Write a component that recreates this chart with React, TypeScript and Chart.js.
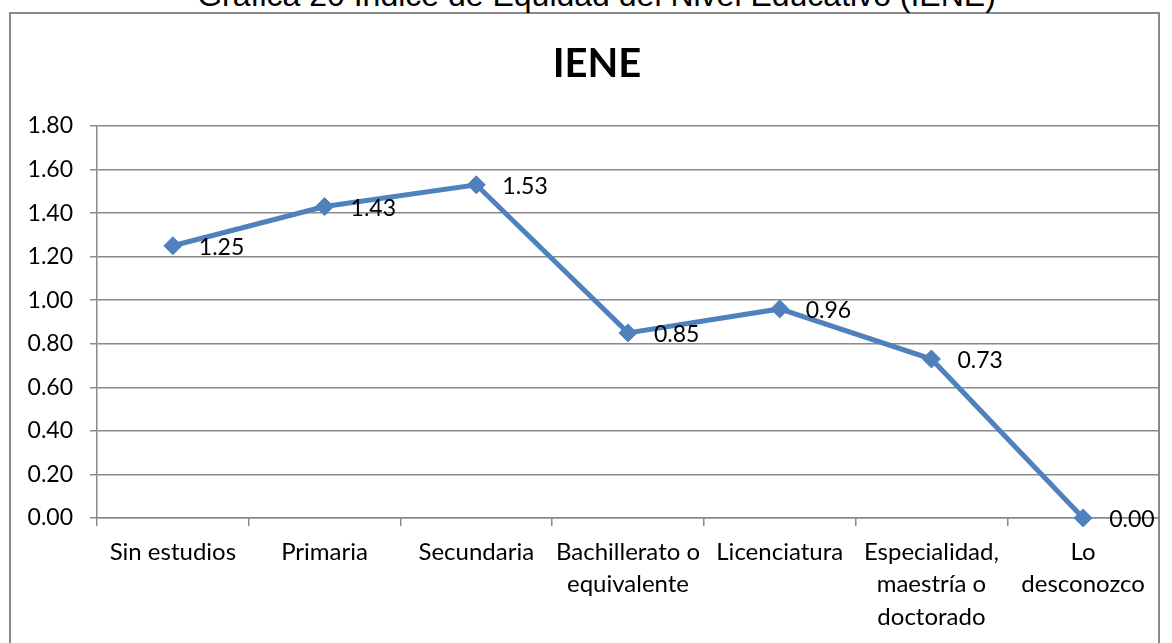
import React, { useEffect, useRef } from "react";
import { Chart, registerables } from "chart.js";

Chart.register(...registerables);

const categories: (string | string[])[] = [
  "Sin estudios",
  "Primaria",
  "Secundaria",
  ["Bachillerato o", "equivalente"],
  "Licenciatura",
  ["Especialidad,", "maestría o", "doctorado"],
  ["Lo", "desconozco"],
];
const ieneValues: number[] = [1.25, 1.43, 1.53, 0.85, 0.96, 0.73, 0.0];
const yTicks: number[] = [0, 0.2, 0.4, 0.6, 0.8, 1.0, 1.2, 1.4, 1.6, 1.8];

const caption = "Gráfica 20 Índice de Equidad del Nivel Educativo (IENE)";
const chartTitle = "IENE";
const FONT = "Lato, 'Noto Sans', sans-serif";

const titlePlugin = {
  id: "centerTitle",
  afterDraw(chart: any) {
    const ctx = chart.ctx;
    ctx.save();
    ctx.font = `bold 40px ${FONT}`;
    ctx.fillStyle = "#000";
    ctx.textAlign = "center";
    ctx.textBaseline = "middle";
    ctx.fillText(chartTitle, 597, 64);
    ctx.restore();
  },
};

const dataLabelPlugin = {
  id: "dataLabels",
  afterDatasetsDraw(chart: any) {
    const ctx = chart.ctx;
    const meta = chart.getDatasetMeta(0);
    ctx.save();
    ctx.font = `23px ${FONT}`;
    ctx.fillStyle = "#000";
    ctx.textAlign = "left";
    ctx.textBaseline = "middle";
    meta.data.forEach((pt: any, i: number) => {
      const v = chart.data.datasets[0].data[i] as number;
      ctx.fillText(v.toFixed(2), pt.x + 26, pt.y + 2);
    });
    ctx.restore();
  },
};

export default function App() {
  const ref = useRef<HTMLCanvasElement | null>(null);

  useEffect(() => {
    document.body.style.margin = "0";
    const canvas = ref.current;
    if (!canvas) return;
    const chart = new Chart(canvas, {
      type: "line",
      data: {
        labels: categories,
        datasets: [
          {
            label: chartTitle,
            data: ieneValues,
            borderColor: "#4F81BD",
            backgroundColor: "#4F81BD",
            borderWidth: 5,
            pointStyle: "rectRot",
            pointRadius: 9,
            pointHoverRadius: 9,
            pointBackgroundColor: "#4F81BD",
            pointBorderColor: "#4F81BD",
            pointBorderWidth: 1,
            tension: 0,
            clip: false as any,
          },
        ],
      },
      options: {
        responsive: false,
        animation: false,
        layout: { padding: { left: 0, right: 13, top: 126, bottom: 0 } },
        plugins: {
          legend: { display: false },
          tooltip: { enabled: false },
          title: { display: false },
        },
        scales: {
          x: {
            type: "category",
            offset: true,
            grid: {
              offset: true,
              drawOnChartArea: false,
              drawTicks: true,
              tickLength: 8,
              color: "#8a8a8a",
              lineWidth: 1.5,
            },
            border: { display: true, color: "#8a8a8a", width: 1.5 },
            ticks: {
              color: "#000",
              font: { family: FONT, size: 24, lineHeight: 1.354 },
              padding: 10,
              maxRotation: 0,
              minRotation: 0,
              autoSkip: false,
            },
            afterFit(scale: any) {
              scale.height = 125;
            },
          },
          y: {
            min: 0,
            max: 1.8,
            afterBuildTicks(scale: any) {
              scale.ticks = yTicks.map((v) => ({ value: v }));
            },
            grid: {
              color: "#8a8a8a",
              lineWidth: 1.5,
              tickLength: 7,
            },
            border: { display: true, color: "#8a8a8a", width: 1.5 },
            ticks: {
              color: "#000",
              font: { family: FONT, size: 23 },
              padding: 17,
              callback: (v: any) => Number(v).toFixed(2),
            },
            afterFit(scale: any) {
              scale.width = 97;
            },
          },
        },
      },
      plugins: [dataLabelPlugin, titlePlugin],
    });
    return () => chart.destroy();
  }, []);

  return (
    <div
      style={{
        position: "relative",
        width: 1172,
        height: 643,
        overflow: "hidden",
        background: "#fff",
      }}
    >
      <div
        style={{
          position: "absolute",
          left: 9,
          top: 12,
          width: 1151,
          height: 700,
          border: "2px solid #8a8a8a",
          boxSizing: "border-box",
        }}
      />
      <div
        style={{
          position: "absolute",
          left: 0,
          width: 1172,
          top: -21,
          textAlign: "center",
          fontFamily: "'Liberation Sans', Arial, sans-serif",
          fontSize: 32,
          lineHeight: "32px",
          color: "#000",
          paddingLeft: 21,
          boxSizing: "border-box",
          whiteSpace: "nowrap",
        }}
      >
        {caption}
      </div>
      <canvas
        ref={ref}
        width={1172}
        height={643}
        style={{ position: "absolute", left: 0, top: 0 }}
      />
    </div>
  );
}
